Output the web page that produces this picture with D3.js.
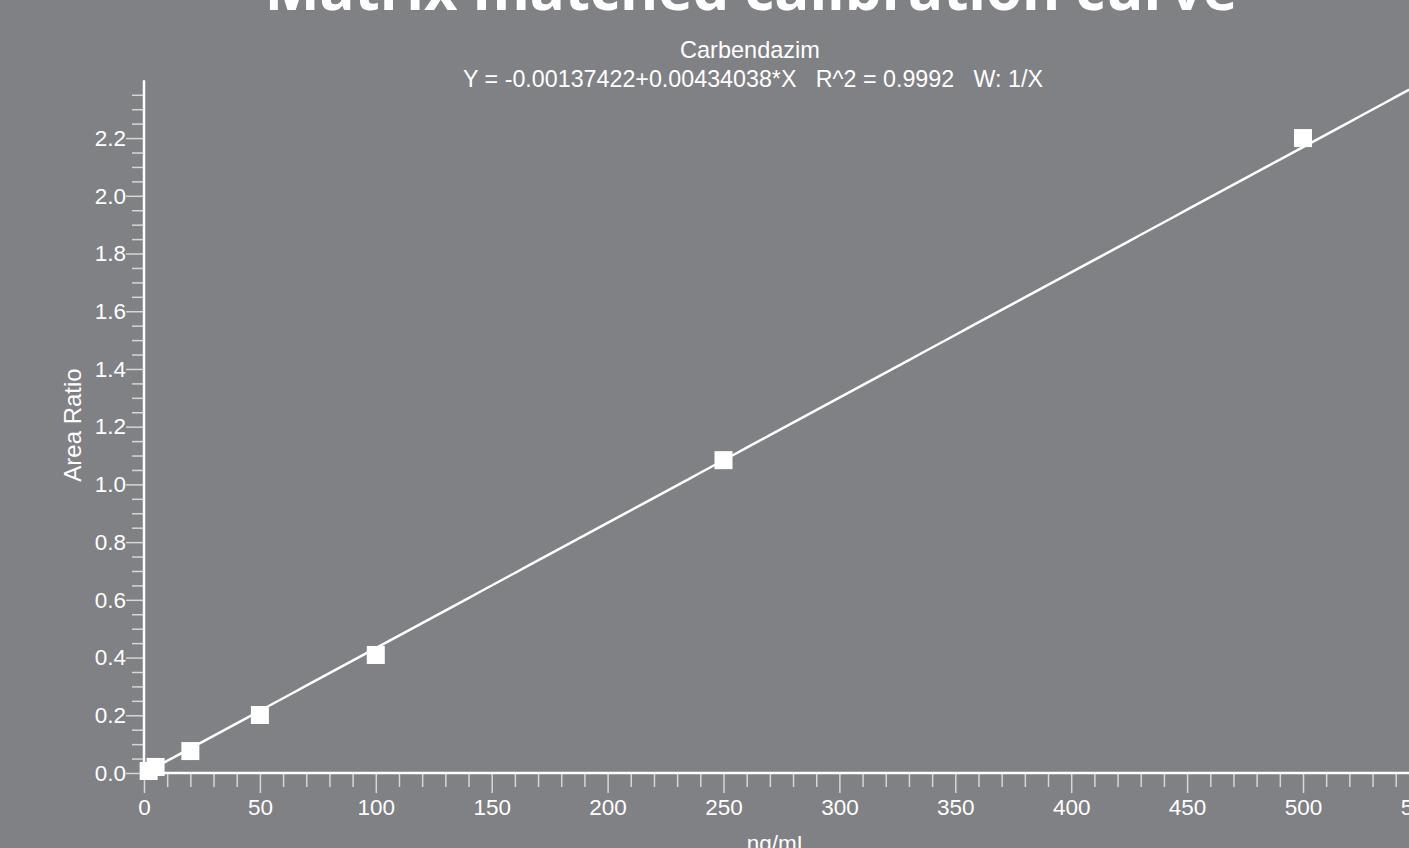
<!DOCTYPE html>
<html>
<head>
<meta charset="utf-8">
<script src="https://cdn.jsdelivr.net/npm/d3@7"></script>
<style>
html,body{margin:0;padding:0;background:#808184;overflow:hidden;}
svg{display:block;}
text{font-family:"Liberation Sans",Arial,sans-serif;fill:#ffffff;}
</style>
</head>
<body>
<svg id="chart" width="1409" height="848"></svg>
<script>
const titleText = "Matrix matched calibration curve";
const compoundName = "Carbendazim";
const equationText = "Y = -0.00137422+0.00434038*X   R^2 = 0.9992   W: 1/X";
const xLabel = "ng/mL";
const yLabel = "Area Ratio";

const concentrations = [2, 5, 20, 50, 100, 250, 500];
const areaRatios = [0.007, 0.021, 0.076, 0.201, 0.409, 1.084, 2.200];

const fitIntercept = -0.00137422;
const fitSlope = 0.00434038;
const fitRange = [0, 550];

const xMajorTicks = [0, 50, 100, 150, 200, 250, 300, 350, 400, 450, 500, 550];
const yMajorTicks = [0.0, 0.2, 0.4, 0.6, 0.8, 1.0, 1.2, 1.4, 1.6, 1.8, 2.0, 2.2];

const svg = d3.select("#chart");
svg.append("rect").attr("width", 1409).attr("height", 848).attr("fill", "#808184");

const x0 = 144, y0 = 773;
const pxX = 2.318, pxY = 288.6;
const x = d3.scaleLinear().domain([0, 550]).range([x0, x0 + 550 * pxX]);
const y = d3.scaleLinear().domain([0, 2.4]).range([y0, y0 - 2.4 * pxY]);

const xMinor = d3.range(0, 551, 10).filter(v => v % 50 !== 0);
const yMinor = d3.range(0, 48).map(i => +(i * 0.05).toFixed(2)).filter(v => Math.abs(v * 5 - Math.round(v * 5)) > 1e-6);

const tickColor = "#d6d6d6";
const labelFont = '"Liberation Sans",Arial,sans-serif';

// X axis
const gx = svg.append("g").attr("transform", `translate(0,${y0})`);
gx.append("g").call(d3.axisBottom(x).tickValues(xMinor).tickSize(14).tickFormat(""))
  .call(g => g.select(".domain").remove())
  .call(g => g.selectAll("line").attr("stroke", tickColor).attr("stroke-width", 1.5));
gx.append("g").call(d3.axisBottom(x).tickValues(xMajorTicks).tickSize(20).tickPadding(6).tickFormat(d3.format("d")))
  .call(g => g.select(".domain").remove())
  .call(g => g.selectAll("line").attr("stroke", tickColor).attr("stroke-width", 1.5))
  .call(g => g.selectAll("text").attr("fill", "#ffffff").style("font-size", "22.5px").style("font-family", labelFont));
gx.append("line").attr("x1", x(0)).attr("x2", x(550)).attr("y1", 0).attr("y2", 0)
  .attr("stroke", "#ffffff").attr("stroke-width", 2.5);

// Y axis
const gy = svg.append("g").attr("transform", `translate(${x0},0)`);
gy.append("g").call(d3.axisLeft(y).tickValues(yMinor).tickSize(12).tickFormat(""))
  .call(g => g.select(".domain").remove())
  .call(g => g.selectAll("line").attr("stroke", tickColor).attr("stroke-width", 1.5));
gy.append("g").call(d3.axisLeft(y).tickValues(yMajorTicks).tickSize(18).tickPadding(0).tickFormat(d3.format(".1f")))
  .call(g => g.select(".domain").remove())
  .call(g => g.selectAll("line").attr("stroke", tickColor).attr("stroke-width", 1.5))
  .call(g => g.selectAll("text").attr("fill", "#ffffff").style("font-size", "22.5px").style("font-family", labelFont));
gy.append("line").attr("x1", 0).attr("x2", 0).attr("y1", y(2.4)).attr("y2", y0)
  .attr("stroke", "#ffffff").attr("stroke-width", 2.5);

// Fit line
const fitPts = d3.range(fitRange[0], fitRange[1] + 1, 5).map(v => [v, fitIntercept + fitSlope * v]);
svg.append("path").datum(fitPts)
  .attr("d", d3.line().x(d => x(d[0])).y(d => y(d[1])))
  .attr("fill", "none").attr("stroke", "#ffffff").attr("stroke-width", 2.5);

// Points
const sq = 18;
svg.append("g").selectAll("rect").data(concentrations.map((c, i) => [c, areaRatios[i]]))
  .join("rect")
  .attr("x", d => x(d[0]) - sq / 2).attr("y", d => y(d[1]) - sq / 2)
  .attr("width", sq).attr("height", sq).attr("fill", "#ffffff");

// Titles
function fitText(sel, target) {
  const w = sel.node().getComputedTextLength();
  const fs = parseFloat(sel.style("font-size"));
  sel.style("font-size", (fs * target / w) + "px");
}
const t = svg.append("text").attr("x", 751).attr("y", 10).attr("text-anchor", "middle")
  .style("font-family", '"Open Sans",sans-serif').style("font-weight", "bold").style("font-size", "52px")
  .text(titleText);
fitText(t, 973);

const st = svg.append("text").attr("x", 750).attr("y", 58).attr("text-anchor", "middle")
  .style("font-size", "21px").text(compoundName);
fitText(st, 140);
const eq = svg.append("text").attr("x", 753).attr("y", 87).attr("text-anchor", "middle")
  .attr("xml:space", "preserve").style("white-space", "pre")
  .style("font-size", "21px").text(equationText);
fitText(eq, 580);

svg.append("text").attr("x", 778).attr("y", 851).attr("text-anchor", "middle")
  .style("font-size", "22.5px").text(xLabel);
svg.append("text").attr("transform", "translate(81,425) rotate(-90)").attr("text-anchor", "middle")
  .style("font-size", "24px").text(yLabel);
</script>
</body>
</html>
